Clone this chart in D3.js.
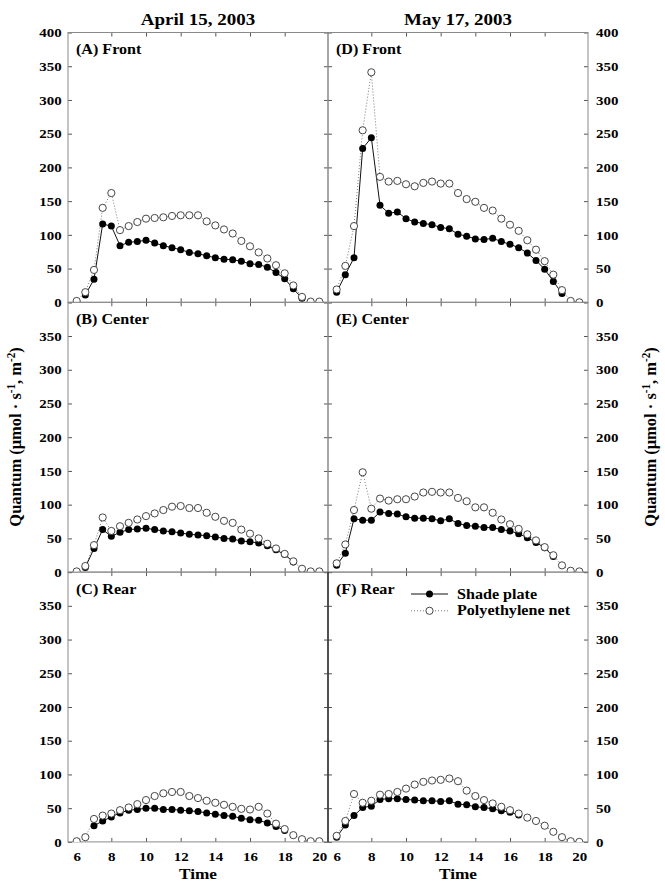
<!DOCTYPE html>
<html>
<head>
<meta charset="utf-8">
<script src="https://cdn.jsdelivr.net/npm/d3@7"></script>
<style>
body { margin:0; background:#fff; }
</style>
</head>
<body>
<script>
// time of day (h)
var hours = [6,6.5,7,7.5,8,8.5,9,9.5,10,10.5,11,11.5,12,12.5,13,13.5,14,14.5,15,15.5,16,16.5,17,17.5,18,18.5,19,19.5,20];

// April 15, 2003
var aprFrontShade  = [null,11,34,116,113,84,89,90,92,88,84,81,78,74,72,69,66,64,63,61,57,56,52,44,35,20,6,null,null];
var aprFrontNet    = [2,15,48,140,162,107,113,119,124,125,126,128,129,129,129,120,114,108,102,91,83,74,65,55,43,25,8,1,1];
var aprCenterShade = [null,7,35,63,53,59,63,64,65,63,61,60,58,56,55,54,52,50,49,46,45,43,39,33,26,15,null,null,null];
var aprCenterNet   = [1,9,40,81,61,68,73,78,83,87,92,97,98,95,95,88,82,76,73,63,57,50,42,35,27,16,5,1,1];
var aprRearShade   = [null,null,24,31,37,43,47,48,50,50,48,48,47,46,45,43,41,39,38,35,33,32,28,23,17,null,null,null,null];
var aprRearNet     = [1,7,34,39,42,47,51,56,62,68,72,74,74,68,65,61,58,55,52,49,48,52,42,27,19,10,4,1,1];

// May 17, 2003
var mayFrontShade  = [15,41,66,228,244,144,132,134,124,119,117,115,111,109,101,98,94,93,95,90,86,81,73,62,49,31,13,null,null];
var mayFrontNet    = [19,54,113,255,341,186,179,180,175,172,177,179,176,176,162,153,149,140,136,124,115,106,92,78,61,41,18,2,0];
var mayCenterShade = [10,28,79,77,77,89,87,86,82,80,80,79,76,79,72,69,68,66,66,63,61,57,51,44,36,23,null,null,null];
var mayCenterNet   = [13,41,92,148,94,109,106,108,108,112,118,119,118,118,110,105,96,96,88,78,71,64,56,47,37,25,10,2,1];
var mayRearShade   = [7,25,39,51,53,63,64,64,63,62,61,61,60,61,56,55,52,51,49,46,44,40,null,null,null,null,null,null,null];
var mayRearNet     = [9,31,71,58,61,70,71,74,79,85,89,91,92,94,90,76,68,62,57,52,47,42,36,31,24,15,7,1,0];

var dates = ["April 15, 2003", "May 17, 2003"];
var panelNames = [["(A) Front","(B) Center","(C) Rear"],["(D) Front","(E) Center","(F) Rear"]];
var seriesNames = ["Shade plate", "Polyethylene net"];
var yTicksTop = [0,50,100,150,200,250,300,350,400];
var yTicks = [0,50,100,150,200,250,300,350];
var xTicks = [8,10,12,14,16,18];
var xLabels = [6,8,10,12,14,16,18,20];

var panels = [
  {col:0,row:0,shade:aprFrontShade, net:aprFrontNet},
  {col:0,row:1,shade:aprCenterShade,net:aprCenterNet},
  {col:0,row:2,shade:aprRearShade,  net:aprRearNet},
  {col:1,row:0,shade:mayFrontShade, net:mayFrontNet},
  {col:1,row:1,shade:mayCenterShade,net:mayCenterNet},
  {col:1,row:2,shade:mayRearShade,  net:mayRearNet}
];

var colX = [68, 328], panelW = 260;
var rowY = [32.5, 302.3, 572.1], panelH = 269.8;
var SX = 1.15;   // glyphs in the figure look a bit wide
var serif = "'Liberation Serif','Times New Roman',serif";

var svg = d3.select("body").append("svg")
    .attr("width", 665).attr("height", 884)
    .style("font-family", serif).style("font-weight", "bold");

function label(x, y, str, size, anchor) {
  return svg.append("text")
      .attr("transform", "translate(" + x + "," + y + ") scale(" + SX + ",1)")
      .attr("text-anchor", anchor || "start")
      .attr("font-size", size)
      .attr("fill", "#000")
      .text(str);
}

function xScale(col) {
  return d3.scaleLinear().domain([5.5, 20.5]).range([colX[col], colX[col] + panelW]);
}
function yScale(row) {
  return d3.scaleLinear().domain([0, 400]).range([rowY[row] + panelH, rowY[row]]);
}

function styleAxis(g) {
  g.select(".domain").remove();
  g.selectAll("line").attr("stroke", "#555");
  g.selectAll("text").attr("font-size", 13).attr("fill", "#000")
    .attr("font-family", serif).attr("font-weight", "bold")
    .attr("transform", "scale(" + SX + ",1)");
}

var defs = svg.append("defs");

panels.forEach(function(p, idx) {
  var x = xScale(p.col), y = yScale(p.row);
  var top = rowY[p.row], bot = top + panelH;
  var left = colX[p.col], right = left + panelW;

  defs.append("clipPath").attr("id", "clip" + idx)
    .append("rect").attr("x", left).attr("y", top).attr("width", panelW).attr("height", panelH);

  // ticks on all four sides, pointing inward
  svg.append("g").attr("transform", "translate(0," + top + ")")
    .call(d3.axisTop(x).tickValues(xTicks).tickSize(-4).tickFormat("")).call(styleAxis);
  svg.append("g").attr("transform", "translate(0," + bot + ")")
    .call(d3.axisBottom(x).tickValues(xTicks).tickSize(-4).tickFormat("")).call(styleAxis);
  svg.append("g").attr("transform", "translate(" + left + ",0)")
    .call(d3.axisLeft(y).tickValues(yTicksTop).tickSize(-4).tickFormat("")).call(styleAxis);
  svg.append("g").attr("transform", "translate(" + right + ",0)")
    .call(d3.axisRight(y).tickValues(yTicksTop).tickSize(-4).tickFormat("")).call(styleAxis);

  // tick labels
  var yt = p.row == 0 ? yTicksTop : yTicks;
  if (p.col == 0) {
    svg.append("g").attr("transform", "translate(" + left + ",0)")
      .call(d3.axisLeft(y).tickValues(yt).tickSize(0).tickPadding(5.5)).call(styleAxis);
  } else {
    svg.append("g").attr("transform", "translate(" + right + ",0)")
      .call(d3.axisRight(y).tickValues(yt).tickSize(0).tickPadding(7)).call(styleAxis);
  }
  if (p.row == 2) {
    svg.append("g").attr("transform", "translate(0," + bot + ")")
      .call(d3.axisBottom(x).tickValues(xLabels).tickSize(0).tickPadding(10)).call(styleAxis);
  }

  svg.append("rect").attr("x", left).attr("y", top).attr("width", panelW).attr("height", panelH)
    .attr("fill", "none").attr("stroke", "#8a8a8a").attr("stroke-width", 1);

  var shadePts = hours.map(function(h, i) { return [h, p.shade[i]]; });
  var netPts = hours.map(function(h, i) { return [h, p.net[i]]; });
  var line = d3.line()
      .defined(function(d) { return d[1] != null; })
      .x(function(d) { return x(d[0]); })
      .y(function(d) { return y(d[1]); });

  var g = svg.append("g").attr("clip-path", "url(#clip" + idx + ")");
  g.append("path").datum(netPts).attr("d", line)
    .attr("fill", "none").attr("stroke", "#777").attr("stroke-width", 1).attr("stroke-dasharray", "1,2");
  g.append("path").datum(shadePts).attr("d", line)
    .attr("fill", "none").attr("stroke", "#111").attr("stroke-width", 1);
  g.selectAll("circle.shade").data(shadePts.filter(function(d) { return d[1] != null; }))
    .enter().append("circle").attr("class", "shade")
    .attr("cx", function(d) { return x(d[0]); })
    .attr("cy", function(d) { return y(d[1]); })
    .attr("r", 3.5).attr("fill", "#000");
  g.selectAll("circle.net").data(netPts)
    .enter().append("circle").attr("class", "net")
    .attr("cx", function(d) { return x(d[0]); })
    .attr("cy", function(d) { return y(d[1]); })
    .attr("r", 3.6).attr("fill", "#fff").attr("stroke", "#333").attr("stroke-width", 0.9);

  label(left + 8, top + 21.5, panelNames[p.col][p.row], 14);
});

// darker divider in bottom row
svg.append("line").attr("x1", colX[1]).attr("x2", colX[1])
  .attr("y1", rowY[2]).attr("y2", rowY[2] + panelH)
  .attr("stroke", "#222").attr("stroke-width", 1.3);

// column titles and x titles
dates.forEach(function(d, c) {
  var cx = colX[c] + panelW / 2;
  label(cx, 25, d, 16.5, "middle");
  label(cx, 879, "Time", 15, "middle");
});

// y titles
function yTitle(xPos) {
  var t = svg.append("text")
    .attr("transform", "translate(" + xPos + ",437) scale(1.05,1) rotate(-90)")
    .attr("text-anchor", "middle").attr("font-size", 16.5).attr("fill", "#000");
  t.append("tspan").text("Quantum (\u03bcmol \u00b7 s");
  t.append("tspan").attr("dy", -6).attr("font-size", 11).text("-1");
  t.append("tspan").attr("dy", 6).text(", m");
  t.append("tspan").attr("dy", -6).attr("font-size", 11).text("-2");
  t.append("tspan").attr("dy", 6).text(")");
}
yTitle(21);
yTitle(656);

// legend in panel F
var lg = svg.append("g");
[0, 1].forEach(function(i) {
  var ly = 594 + i * 16.8;
  lg.append("line").attr("x1", 411).attr("x2", 448).attr("y1", ly).attr("y2", ly)
    .attr("stroke", i == 0 ? "#111" : "#777").attr("stroke-width", 1)
    .attr("stroke-dasharray", i == 0 ? null : "1,2");
  lg.append("circle").attr("cx", 429.5).attr("cy", ly).attr("r", i == 0 ? 3.5 : 3.6)
    .attr("fill", i == 0 ? "#000" : "#fff").attr("stroke", i == 0 ? "none" : "#333").attr("stroke-width", 0.9);
  label(457, ly + 4.5, seriesNames[i], 14);
});
</script>
</body>
</html>
